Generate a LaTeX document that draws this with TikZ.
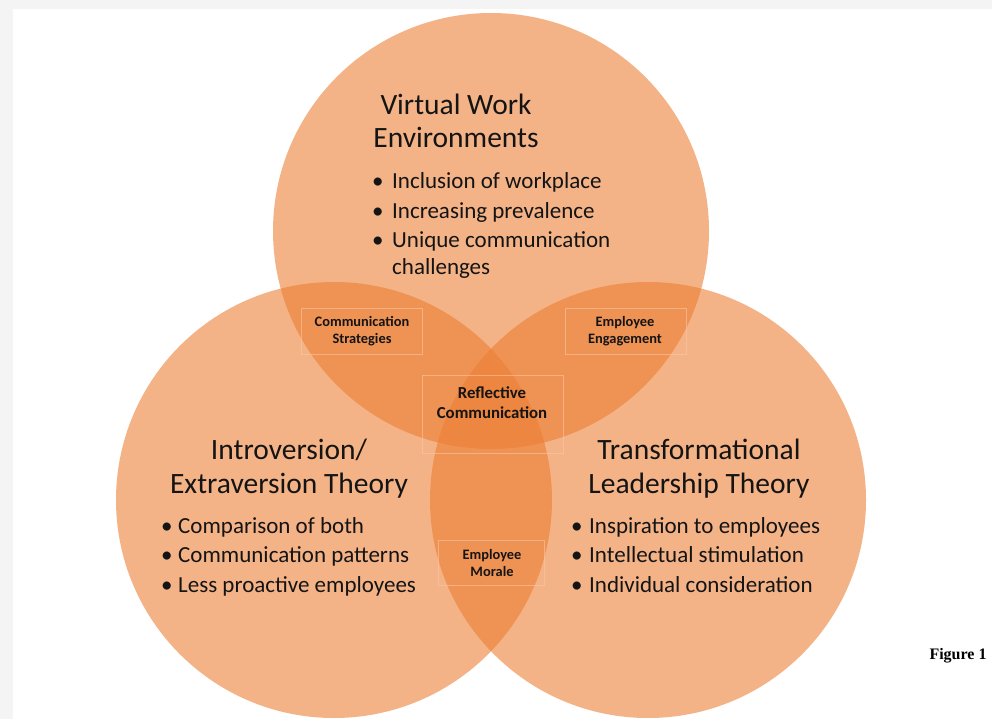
\documentclass[tikz,border=0pt]{standalone}
\usepackage{fontspec}
\setmainfont{Carlito}
\newfontfamily\figfont{Liberation Serif}
\begin{document}
\begin{tikzpicture}[x=1pt,y=-1pt,
  bubble/.style={fill=vennorange,fill opacity=0.58},
  heading/.style={font=\fontsize{29.5}{33.5}\selectfont,text=inkc,align=center,inner sep=0pt},
  bullets/.style={font=\fontsize{23}{29.5}\selectfont,text=inkc,align=left,inner sep=0pt},
  overlap/.style={draw=boxline,draw opacity=0.55,line width=0.7pt},
  lbl/.style={font=\bfseries\fontsize{14.4}{17}\selectfont,text=inkc,align=center,inner sep=0pt},
  lblbig/.style={font=\bfseries\fontsize{16.8}{20}\selectfont,text=inkc,align=center,inner sep=0pt}]
\definecolor{vennorange}{RGB}{237,125,49}
\definecolor{inkc}{RGB}{20,20,20}
\definecolor{boxline}{RGB}{250,200,170}
\definecolor{pagegray}{RGB}{244,244,244}
% page and its margin
\fill[pagegray] (0,0) rectangle (992,719);
\fill[white] (13,9) rectangle (992,719);
\useasboundingbox (0,0) rectangle (992,719);
% the three circles
\begin{scope}
\clip (0,0) rectangle (992,719);
\fill[bubble] (491,231) circle (218);
\fill[bubble] (334,500) circle (218);
\fill[bubble] (648,500) circle (218);
\end{scope}
% circle headings (anchored on the baseline of their last line)
\node[heading,anchor=base] (thead) at (456,148) {Virtual Work\\Environments};
\node[heading,anchor=base] (lhead) at (289,493) {Introversion/\\Extraversion Theory};
\node[heading,anchor=base] (rhead) at (699,493) {Transformational\\Leadership Theory};
% bullet lists (anchored on the baseline of their last line)
\node[bullets,anchor=base west] (tlist) at (372,274)
  {\makebox[20pt][l]{\textbullet}Inclusion of workplace\\
   \makebox[20pt][l]{\textbullet}Increasing prevalence\\
   \makebox[20pt][l]{\textbullet}Unique communication\\[-3pt]
   \hspace*{20pt}challenges};
\node[bullets,anchor=base west] (llist) at (161,592)
  {\makebox[17pt][l]{\textbullet}Comparison of both\\
   \makebox[17pt][l]{\textbullet}Communication patterns\\
   \makebox[17pt][l]{\textbullet}Less proactive employees};
\node[bullets,anchor=base west] (rlist) at (571,592)
  {\makebox[18pt][l]{\textbullet}Inspiration to employees\\
   \makebox[18pt][l]{\textbullet}Intellectual stimulation\\
   \makebox[18pt][l]{\textbullet}Individual consideration};
% overlap labels
\draw[overlap] (301,308) rectangle (422,354);
\node[lbl] (cs) at (362,331) {Communication\\Strategies};
\draw[overlap] (565,308) rectangle (686,354);
\node[lbl] (ee) at (625,331) {Employee\\Engagement};
\draw[overlap] (422,375) rectangle (563,453);
\node[lblbig] (rc) at (492,403) {Reflective\\Communication};
\draw[overlap] (438,540) rectangle (544,585);
\node[lbl] (em) at (492,563) {Employee\\Morale};
% caption
\node[font=\figfont\bfseries\fontsize{16}{18}\selectfont,anchor=base,inner sep=0pt] (fig) at (958,659) {Figure 1};
\end{tikzpicture}
\end{document}
